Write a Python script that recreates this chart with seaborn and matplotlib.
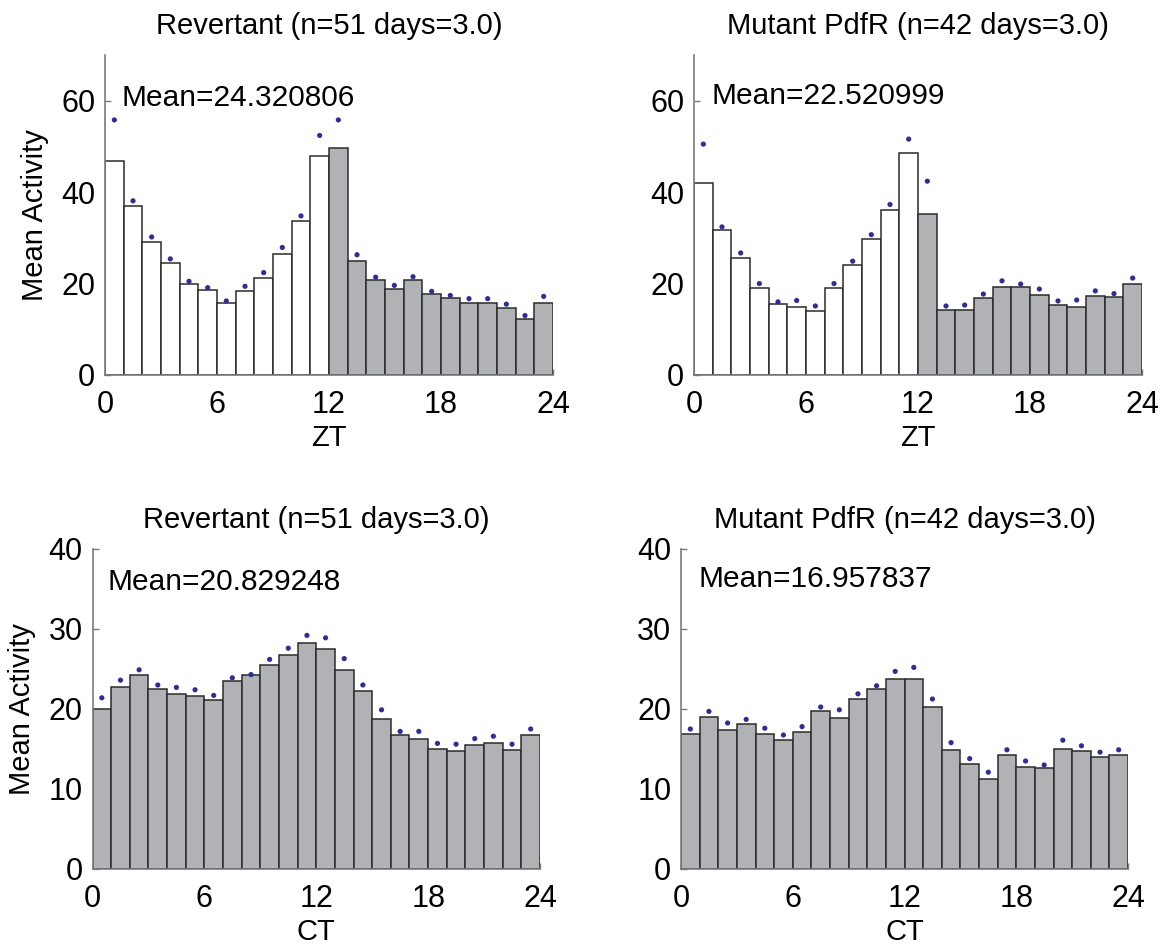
import numpy as np
import pandas as pd
import matplotlib
matplotlib.use("Agg")
import matplotlib.pyplot as plt
import seaborn as sns

# ---- data ----
hours = np.arange(24) + 0.5  # bin centres, hours 0..24

rev_zt_bars = [46.8, 36.9, 29.2, 24.6, 19.9, 18.6, 15.8, 18.3, 21.2, 26.4, 33.7, 48.0,
               49.7, 24.9, 20.7, 18.9, 20.7, 17.8, 16.9, 15.8, 15.8, 14.7, 12.3, 15.8]
rev_zt_dots = [55.8, 38.1, 30.2, 25.4, 20.5, 19.1, 16.2, 19.4, 22.4, 27.9, 34.8, 52.4,
               55.8, 26.3, 21.4, 19.6, 21.5, 18.3, 17.4, 16.7, 16.7, 15.5, 13.0, 17.2]

mut_zt_bars = [42.1, 31.8, 25.7, 19.0, 15.5, 14.8, 14.0, 19.0, 24.1, 29.7, 36.0, 48.6,
               35.2, 14.2, 14.3, 16.9, 19.2, 19.2, 17.6, 15.3, 14.8, 17.3, 17.0, 19.9]
mut_zt_dots = [50.5, 32.4, 26.7, 20.0, 16.0, 16.3, 15.1, 20.0, 24.9, 30.7, 37.3, 51.6,
               42.4, 15.1, 15.3, 17.7, 20.6, 19.9, 18.8, 16.2, 16.4, 18.4, 17.8, 21.2]

rev_ct_bars = [20.0, 22.8, 24.2, 22.5, 21.9, 21.6, 21.1, 23.5, 24.2, 25.5, 26.7, 28.2,
               27.5, 24.9, 22.3, 18.8, 16.7, 16.3, 15.0, 14.7, 15.5, 15.7, 14.9, 16.8]
rev_ct_dots = [21.4, 23.6, 24.9, 23.0, 22.7, 22.4, 21.7, 23.9, 24.3, 26.2, 27.6, 29.2,
               28.9, 26.3, 23.0, 19.9, 17.2, 17.2, 15.7, 15.6, 16.3, 16.6, 15.6, 17.5]

mut_ct_bars = [16.9, 19.0, 17.4, 18.1, 16.9, 16.1, 17.1, 19.7, 18.9, 21.2, 22.5, 23.7,
               23.7, 20.2, 14.9, 13.1, 11.25, 14.3, 12.8, 12.6, 15.0, 14.8, 14.0, 14.3]
mut_ct_dots = [17.5, 19.7, 18.25, 18.7, 17.6, 16.75, 17.8, 20.25, 19.9, 21.9, 22.9, 24.7,
               25.2, 21.25, 15.8, 13.8, 12.1, 14.9, 13.5, 13.0, 16.1, 15.4, 14.6, 14.9]

titles = ["Revertant (n=51 days=3.0)", "Mutant PdfR (n=42 days=3.0)",
          "Revertant (n=51 days=3.0)", "Mutant PdfR (n=42 days=3.0)"]
mean_texts = ["Mean=24.320806", "Mean=22.520999", "Mean=20.829248", "Mean=16.957837"]
xlabels = ["ZT", "ZT", "CT", "CT"]
x_ticks = [0, 6, 12, 18, 24]

# ---- style ----
sns.set_theme(style="ticks")
plt.rcParams["font.family"] = ["Liberation Sans", "DejaVu Sans"]
plt.rcParams["text.color"] = "black"
plt.rcParams["axes.labelcolor"] = "black"
plt.rcParams["xtick.color"] = "black"
plt.rcParams["ytick.color"] = "black"

GRAY = "#b1b2b6"
EDGE = "#2b2b2b"
DOT = "#2c2f96"
SPINE = "#7a7a7a"

fig = plt.figure(figsize=(11.64, 9.47), dpi=100)
W, H = 1164, 947

def add_ax(x0, x1, ytop, ybot):
    return fig.add_axes([x0 / W, 1 - ybot / H, (x1 - x0) / W, (ybot - ytop) / H])

axes = [add_ax(105, 553, 55, 375), add_ax(694, 1142, 55, 375),
        add_ax(92.5, 540, 549, 869), add_ax(681, 1128, 549, 869)]

panels = [
    (rev_zt_bars, rev_zt_dots, True, 70, [0, 20, 40, 60], (0.9, 60.5)),
    (mut_zt_bars, mut_zt_dots, True, 70, [0, 20, 40, 60], (0.95, 61.1)),
    (rev_ct_bars, rev_ct_dots, False, 40, [0, 10, 20, 30, 40], (0.8, 35.9)),
    (mut_ct_bars, mut_ct_dots, False, 40, [0, 10, 20, 30, 40], (0.93, 36.25)),
]

for i, (ax, (bars, dots, light_dark, ymax, yt, mpos)) in enumerate(zip(axes, panels)):
    df = pd.DataFrame({"hour": hours, "activity": bars, "dots": dots})
    if light_dark:
        light = df[df["hour"] < 12]
        dark = df[df["hour"] >= 12]
        sns.barplot(data=light, x="hour", y="activity", native_scale=True, width=1,
                    color="white", saturation=1, edgecolor=EDGE, linewidth=1.1, ax=ax)
        sns.barplot(data=dark, x="hour", y="activity", native_scale=True, width=1,
                    color=GRAY, saturation=1, edgecolor=EDGE, linewidth=1.1, ax=ax)
    else:
        sns.barplot(data=df, x="hour", y="activity", native_scale=True, width=1,
                    color=GRAY, saturation=1, edgecolor=EDGE, linewidth=1.1, ax=ax)
    sns.scatterplot(data=df, x="hour", y="dots", color=DOT, s=14, edgecolor="none",
                    ax=ax, zorder=5)

    ax.set_xlim(0, 24)
    ax.set_ylim(0, ymax)
    ax.set_xticks(x_ticks)
    ax.set_xticklabels([str(t) for t in x_ticks])
    ax.set_yticks(yt)
    ax.set_yticklabels([str(t) for t in yt])
    ax.tick_params(axis="both", direction="in", length=4, width=1, color=SPINE,
                   labelsize=22, labelcolor="black")
    ax.tick_params(axis="x", pad=11)
    ax.tick_params(axis="y", pad=7)
    for s in ["top", "right"]:
        ax.spines[s].set_visible(False)
    for s in ["left", "bottom"]:
        ax.spines[s].set_color(SPINE)
        ax.spines[s].set_linewidth(1.2)
    ax.set_xlabel(xlabels[i], fontsize=21, labelpad=3)
    if i in (0, 2):
        ax.set_ylabel("Mean Activity", fontsize=21, labelpad=9)
    else:
        ax.set_ylabel("")
    ax.set_title(titles[i], fontsize=21, pad=15)
    ax.text(mpos[0], mpos[1], mean_texts[i], fontsize=21.5, ha="left", va="center")

fig.savefig("out.png", dpi=100)
